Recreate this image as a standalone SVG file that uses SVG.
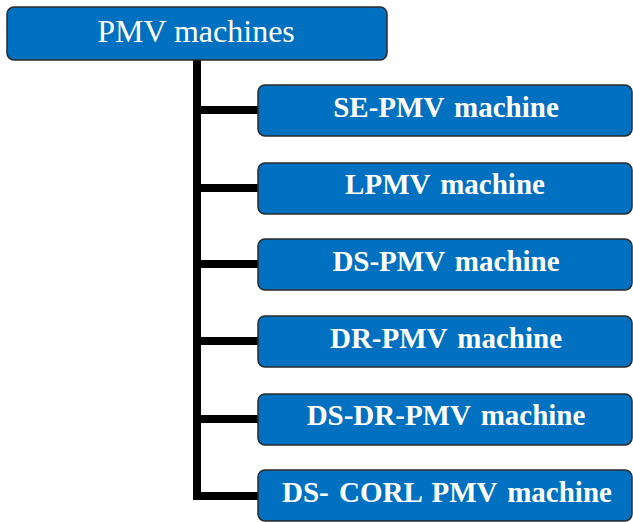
<svg xmlns="http://www.w3.org/2000/svg" width="633" height="522" viewBox="0 0 633 522">
<style>
.box{fill:#0070C0;stroke:#2a2a2a;stroke-width:1.5}
.t{fill:#fff;font-family:"Liberation Serif","Times New Roman",serif;text-anchor:middle}
.c{font-size:29px;font-weight:bold;word-spacing:3px}
.top{font-size:32px}
.ln{stroke:#000;stroke-width:8;fill:none}
</style>
<rect width="633" height="522" fill="#fff"/>
<g id="connectors">
<path class="ln" d="M197,60 V500"/>
<path class="ln" d="M193,110 H259"/>
<path class="ln" d="M193,188 H259"/>
<path class="ln" d="M193,264 H259"/>
<path class="ln" d="M193,341 H259"/>
<path class="ln" d="M193,419 H259"/>
<path class="ln" d="M193,496 H259"/>
</g>
<g id="root">
<rect class="box" x="7" y="7" width="380" height="53" rx="7"/>
<text class="t top" x="196" y="42">PMV machines</text>
</g>
<g id="n1">
<rect class="box" x="258" y="85" width="374" height="51" rx="7"/>
<text class="t c" x="446" y="117">SE-PMV machine</text>
</g>
<g id="n2">
<rect class="box" x="258" y="163" width="374" height="51" rx="7"/>
<text class="t c" x="445" y="194">LPMV machine</text>
</g>
<g id="n3">
<rect class="box" x="258" y="239" width="374" height="51" rx="7"/>
<text class="t c" x="446" y="271">DS-PMV machine</text>
</g>
<g id="n4">
<rect class="box" x="258" y="316" width="374" height="51" rx="7"/>
<text class="t c" x="446" y="348">DR-PMV machine</text>
</g>
<g id="n5">
<rect class="box" x="258" y="394" width="374" height="51" rx="7"/>
<text class="t c" x="446" y="425">DS-DR-PMV machine</text>
</g>
<g id="n6">
<rect class="box" x="258" y="470" width="374" height="51" rx="7"/>
<text class="t c" x="447" y="502">DS- CORL PMV machine</text>
</g>
</svg>
